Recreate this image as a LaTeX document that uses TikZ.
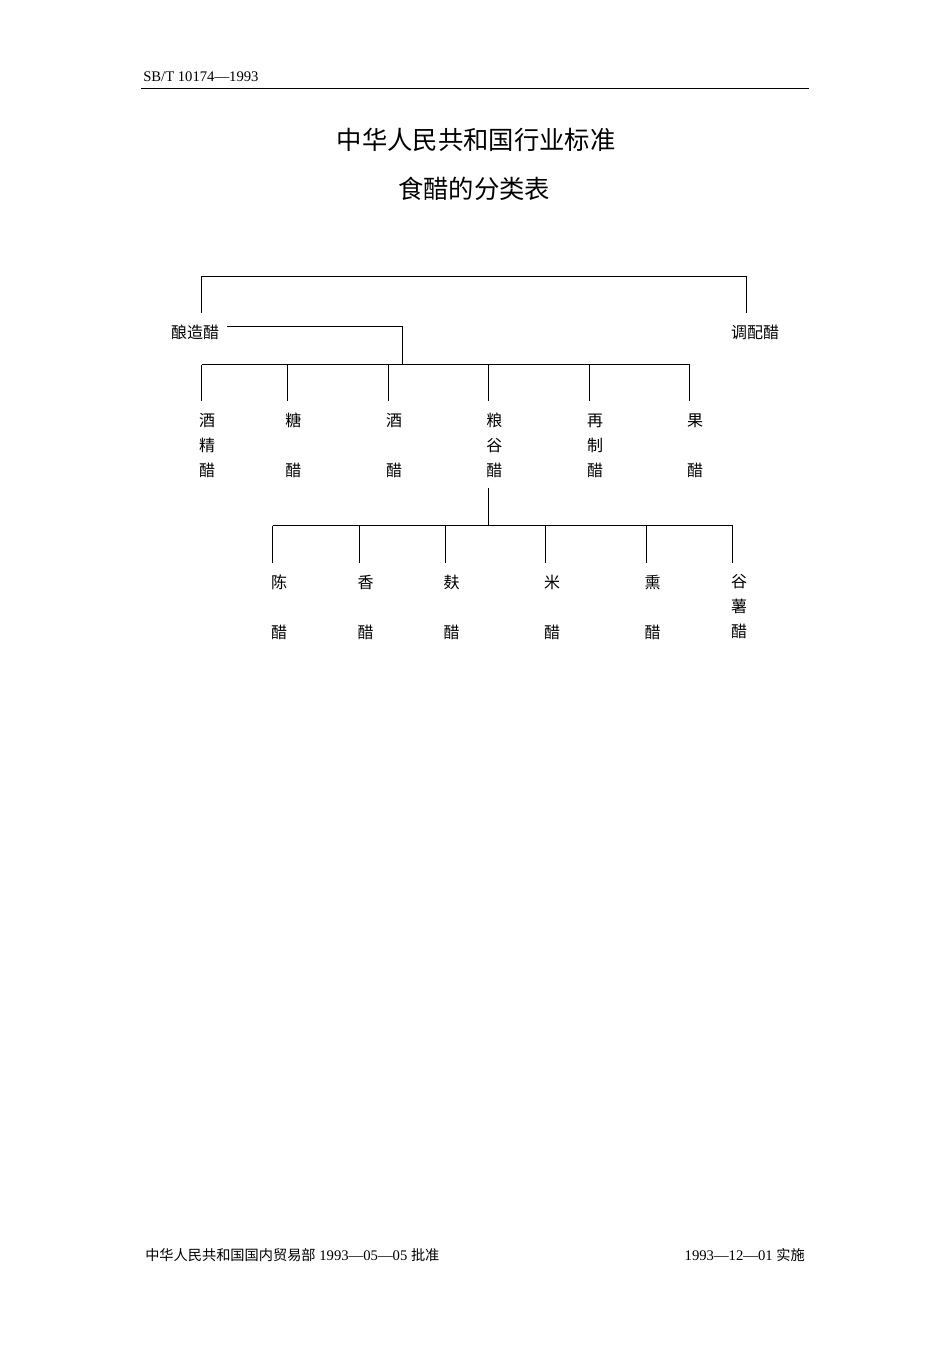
\documentclass[tikz,border=0pt]{standalone}
\usepackage{fontspec}
\setmainfont{Liberation Serif}
\newfontfamily\cjk{Noto Sans CJK SC}
\begin{document}
\begin{tikzpicture}[x=0.75pt,y=-0.75pt,
  ln/.style={line width=0.75pt},
  rulestyle/.style={line width=1.1pt},
  lbl/.style={font=\cjk\fontsize{12}{18.75}\selectfont, align=center, inner sep=0pt},
  titlestyle/.style={font=\cjk\fontsize{19}{22}\selectfont, inner sep=0pt},
  hdrstyle/.style={font=\fontsize{11}{13}\selectfont, inner sep=0pt},
  footstyle/.style={font=\fontsize{11}{13}\selectfont, inner sep=0pt}]
\useasboundingbox (0,0) rectangle (950,1345);

% header
\node[hdrstyle, anchor=west] (hdr) at (143,77) {SB/T 10174—1993};
\coordinate (ruleL) at (141,88.5);
\coordinate (ruleR) at (809,88.5);
\draw[rulestyle] (ruleL) -- (ruleR);

% titles
\node[titlestyle] (title) at (476,140) {中华人民共和国行业标准};
\node[titlestyle] (subtitle) at (474,188.5) {食醋的分类表};

% level 1
\node[lbl] (niang) at (195,332.7) {酿造醋};
\node[lbl] (tiao) at (755,332.7) {调配醋};
\coordinate (t1) at (201.5,312.5);
\coordinate (t2) at (746.5,312.5);
\draw[ln] (t1) -- ++(0,-36) -| (t2);

% level 2
\coordinate (j2) at (402.5,364.5);
\draw[ln] ([xshift=6pt]niang.east |- 0,326.5) -| (j2);
\coordinate (bL2) at (201.5,364.5);
\coordinate (bR2) at (689.5,364.5);
\draw[ln] (bL2) -- (bR2);

\node[lbl] (jiujing) at (207,445.5) {酒\\精\\醋};
\node[lbl] (tang) at (293.3,445.5) {糖\\\mbox{}\\醋};
\node[lbl] (jiu) at (394,445.5) {酒\\\mbox{}\\醋};
\node[lbl] (liang) at (494.3,445.5) {粮\\谷\\醋};
\node[lbl] (zai) at (595,445.5) {再\\制\\醋};
\node[lbl] (guo) at (695,445.5) {果\\\mbox{}\\醋};

\foreach \x/\n in {201.5/a1,287.5/a2,388.5/a3,488.5/a4,589.5/a5,689.5/a6}{
  \coordinate (\n top) at (\x,364.5);
  \coordinate (\n bot) at (\x,400.5);
  \draw[ln] (\n top) -- (\n bot);
}

% level 3
\coordinate (lgTop) at (488.5,487.5);
\coordinate (lgBot) at (488.5,525.5);
\draw[ln] (lgTop) -- (lgBot);
\coordinate (bL3) at (272.5,525.5);
\coordinate (bR3) at (732.5,525.5);
\draw[ln] (bL3) -- (bR3);

\foreach \x/\n in {272.5/b1,359.5/b2,445.5/b3,545.5/b4,646.5/b5,732.5/b6}{
  \coordinate (\n top) at (\x,525.5);
  \coordinate (\n bot) at (\x,562.5);
  \draw[ln] (\n top) -- (\n bot);
}

\node[lbl] (chen) at (279.2,607) {陈\\\mbox{}\\醋};
\node[lbl] (xiang) at (365.5,607) {香\\\mbox{}\\醋};
\node[lbl] (fu) at (451.5,607) {麸\\\mbox{}\\醋};
\node[lbl] (mi) at (552.2,607) {米\\\mbox{}\\醋};
\node[lbl] (xun) at (652.5,607) {熏\\\mbox{}\\醋};
\node[lbl] (gushu) at (739.2,607) {谷\\薯\\醋};

% footer
\node[footstyle, anchor=west] (footL) at (145,1255) {{\cjk\fontsize{10.65}{13}\selectfont 中华人民共和国国内贸易部} 1993—05—05 {\cjk\fontsize{10.65}{13}\selectfont 批准}};
\node[footstyle, anchor=east] (footR) at (805,1255) {1993—12—01 {\cjk\fontsize{10.65}{13}\selectfont 实施}};
\end{tikzpicture}
\end{document}
